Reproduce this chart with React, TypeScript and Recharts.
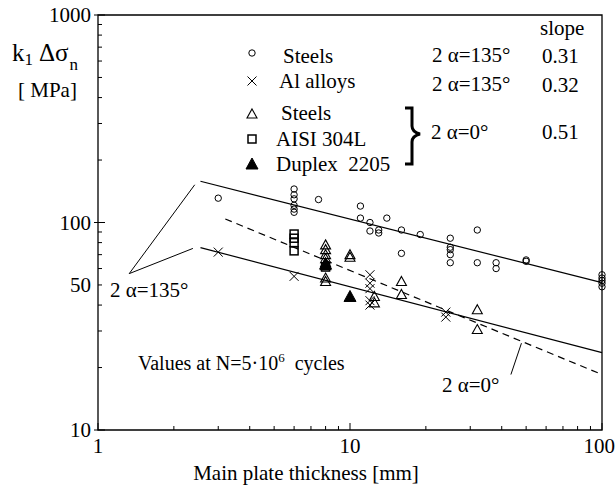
import { ScatterChart, Scatter, XAxis, YAxis, ReferenceArea } from 'recharts';

// tick positions / labels
const xTicks = [1, 2, 3, 4, 5, 6, 7, 8, 9, 10, 20, 30, 40, 50, 60, 70, 80, 90, 100];
const xLabels = [1, 10, 100];
const yTicks = [10, 20, 30, 40, 50, 60, 70, 80, 90, 100, 200, 300, 400, 500, 600, 700, 800, 900, 1000];
const yLabels = [10, 50, 100, 1000];
const yMajor = [10, 100, 1000];

// measured points, thickness [mm] vs k1*dsigma_n [MPa]
const steels135 = [
  { x: 3, y: 131 },
  { x: 6, y: 145 }, { x: 6, y: 136 }, { x: 6, y: 130 }, { x: 6, y: 121 }, { x: 6, y: 116 }, { x: 6, y: 112 },
  { x: 7.5, y: 129 },
  { x: 11, y: 120 }, { x: 11, y: 105 },
  { x: 12, y: 100 }, { x: 12, y: 91 },
  { x: 13, y: 92 }, { x: 13, y: 89 },
  { x: 14, y: 105 },
  { x: 16, y: 92 }, { x: 16, y: 71 },
  { x: 19, y: 87.5 },
  { x: 25, y: 84 }, { x: 25, y: 76 }, { x: 25, y: 74 }, { x: 25, y: 70 }, { x: 25, y: 64 },
  { x: 32, y: 92 }, { x: 32, y: 64 },
  { x: 38, y: 64 }, { x: 38, y: 60 },
  { x: 50, y: 66 }, { x: 50, y: 65 },
  { x: 100, y: 56 }, { x: 100, y: 54 }, { x: 100, y: 52.5 }, { x: 100, y: 51 }, { x: 100, y: 49 },
];
const alAlloys = [
  { x: 3, y: 72 },
  { x: 6, y: 55 },
  { x: 12, y: 56 }, { x: 12, y: 51 }, { x: 12, y: 48 }, { x: 12, y: 42 }, { x: 12, y: 40 },
  { x: 24, y: 37 }, { x: 24, y: 35 },
];
const steels0 = [
  { x: 8, y: 78 }, { x: 8, y: 74 }, { x: 8, y: 70 }, { x: 8, y: 67 }, { x: 8, y: 64 }, { x: 8, y: 62 },
  { x: 8, y: 54 }, { x: 8, y: 52 },
  { x: 10, y: 70 }, { x: 10, y: 68 },
  { x: 12.5, y: 44 }, { x: 12.5, y: 41 },
  { x: 16, y: 52 }, { x: 16, y: 45 },
  { x: 32, y: 38 }, { x: 32, y: 30.5 },
];
const aisi304 = [{ x: 6, y: 88 }, { x: 6, y: 84 }, { x: 6, y: 80 }, { x: 6, y: 73 }, { x: 8, y: 61 }];
const duplex = [{ x: 10, y: 44 }, { x: 8, y: 63 }];

// fitted curves
const fit135Steel = [{ x: 2.55, y: 158 }, { x: 100, y: 51.3 }];
const fit135Al = [{ x: 2.55, y: 75.7 }, { x: 100, y: 23.6 }];
const fit0 = [{ x: 3.2, y: 104 }, { x: 100, y: 18.5 }];

// leader lines for the annotations
const lead135a = [{ x: 1.33, y: 56.7 }, { x: 2.42, y: 152 }];
const lead135b = [{ x: 1.33, y: 56.7 }, { x: 2.38, y: 75 }];
const lead0 = [{ x: 43.5, y: 18.5 }, { x: 47.9, y: 26.2 }];

const FONT = 'Liberation Serif';
const txt = { fontFamily: FONT, fill: '#000', fontSize: 21 };
const pre = { whiteSpace: 'pre' as const };

const CircleMark = (p: any) => <circle cx={p.cx} cy={p.cy} r={3.2} fill="none" stroke="#000" strokeWidth={1} />;
const CrossMark = (p: any) => (
  <path d={`M${p.cx - 4.5},${p.cy - 4.5}L${p.cx + 4.5},${p.cy + 4.5}M${p.cx - 4.5},${p.cy + 4.5}L${p.cx + 4.5},${p.cy - 4.5}`} stroke="#000" strokeWidth={1} />
);
const TriMark = (p: any) => (
  <path d={`M${p.cx},${p.cy - 5}L${p.cx + 5},${p.cy + 4}L${p.cx - 5},${p.cy + 4}Z`} fill="none" stroke="#000" strokeWidth={1.1} />
);
const SquareMark = (p: any) => (
  <rect x={p.cx - 4} y={p.cy - 4} width={8} height={8} fill="none" stroke="#000" strokeWidth={1.5} />
);
const FilledTri = (p: any) => (
  <path d={`M${p.cx},${p.cy - 6}L${p.cx + 6},${p.cy + 5}L${p.cx - 6},${p.cy + 5}Z`} fill="#000" stroke="#000" />
);
const NoMark = () => <g />;

const XTick = (props: any) => {
  const { x, y, payload } = props;
  const major = xLabels.includes(payload.value);
  const last = payload.value === 100;
  return (
    <g>
      <line x1={x} x2={x} y1={y} y2={y - (major ? 7 : 4)} stroke="#000" strokeWidth={1} />
      {major && (
        <text x={last ? 615 : x} y={y + 23} textAnchor={last ? 'end' : 'middle'} {...txt}>
          {payload.value}
        </text>
      )}
    </g>
  );
};

const YTick = (props: any) => {
  const { x, y, payload } = props;
  const major = yMajor.includes(payload.value);
  return (
    <g>
      <line x1={major ? x - 4 : x} x2={x + (major ? 7 : 4)} y1={y} y2={y} stroke="#000" strokeWidth={1} />
      {yLabels.includes(payload.value) && (
        <text x={x - 7} y={y + 7} textAnchor="end" {...txt}>
          {payload.value}
        </text>
      )}
    </g>
  );
};

const lineStyle = { stroke: '#000', strokeWidth: 1.2 };

export default function App() {
  return (
    <div style={{ position: 'absolute', left: 0, top: 0, width: 616, height: 493, background: '#fff' }}>
      <ScatterChart width={616} height={493} margin={{ top: 15, right: 14, bottom: 33, left: 38 }}>
        <XAxis
          type="number"
          dataKey="x"
          scale="log"
          domain={[1, 100]}
          ticks={xTicks}
          interval={0}
          height={30}
          tickSize={0}
          tickMargin={0}
          axisLine={false}
          tick={<XTick />}
        />
        <YAxis
          type="number"
          dataKey="y"
          scale="log"
          domain={[10, 1000]}
          ticks={yTicks}
          interval={0}
          width={60}
          tickSize={0}
          tickMargin={0}
          axisLine={false}
          tick={<YTick />}
        />
        <ReferenceArea x1={1} x2={100} y1={10} y2={1000} fill="none" fillOpacity={0} stroke="#000" strokeWidth={1.3} />
        <Scatter data={fit135Steel} line={lineStyle} shape={NoMark} isAnimationActive={false} />
        <Scatter data={fit135Al} line={lineStyle} shape={NoMark} isAnimationActive={false} />
        <Scatter data={fit0} line={{ ...lineStyle, strokeDasharray: '7 5' }} shape={NoMark} isAnimationActive={false} />
        <Scatter data={lead135a} line={{ stroke: '#000', strokeWidth: 1 }} shape={NoMark} isAnimationActive={false} />
        <Scatter data={lead135b} line={{ stroke: '#000', strokeWidth: 1 }} shape={NoMark} isAnimationActive={false} />
        <Scatter data={lead0} line={{ stroke: '#000', strokeWidth: 1 }} shape={NoMark} isAnimationActive={false} />
        <Scatter data={steels135} shape={CircleMark} isAnimationActive={false} />
        <Scatter data={alAlloys} shape={CrossMark} isAnimationActive={false} />
        <Scatter data={steels0} shape={TriMark} isAnimationActive={false} />
        <Scatter data={aisi304} shape={SquareMark} isAnimationActive={false} />
        <Scatter data={duplex} shape={FilledTri} isAnimationActive={false} />
      </ScatterChart>

      <svg width={616} height={493} style={{ position: 'absolute', left: 0, top: 0, pointerEvents: 'none' }}>
        {/* y axis title */}
        <text x={12} y={61} {...txt} fontSize={25}>
          k<tspan fontSize={17} dy={4}>1</tspan>
          <tspan fontSize={25} dy={-4} dx={6}>Δσ</tspan>
          <tspan fontSize={17} dy={9} dx={1}>n</tspan>
        </text>
        <text x={18} y={97} {...txt} style={pre}>[ MPa]</text>

        {/* legend */}
        <text x={540} y={35} {...txt}>slope</text>
        <CircleMark cx={252} cy={53} />
        <text x={283} y={63} {...txt}>Steels</text>
        <text x={432} y={62} {...txt} style={pre}>2 α=135°</text>
        <text x={542} y={63} {...txt}>0.31</text>
        <CrossMark cx={252} cy={81} />
        <text x={279} y={88} {...txt}>Al alloys</text>
        <text x={432} y={91} {...txt} style={pre}>2 α=135°</text>
        <text x={542} y={92} {...txt}>0.32</text>
        <TriMark cx={252} cy={114} />
        <text x={281} y={120} {...txt}>Steels</text>
        <SquareMark cx={252} cy={139} />
        <text x={276} y={146} {...txt}>AISI 304L</text>
        <FilledTri cx={252} cy={164} />
        <text x={276} y={171} {...txt} style={pre}>Duplex  2205</text>
        <path
          d="M405,108 L412,108 L412,126 Q412,132 420,134 Q412,136 412,142 L412,164 L405,164"
          fill="none"
          stroke="#000"
          strokeWidth={3}
        />
        <text x={431} y={139} {...txt} style={pre}>2 α=0°</text>
        <text x={542} y={139} {...txt}>0.51</text>

        {/* annotations */}
        <text x={110} y={297} {...txt} style={pre}>2 α=135°</text>
        <text x={442} y={392} {...txt} style={pre}>2 α=0°</text>
        <text x={138} y={370} {...txt} fontSize={20} style={pre}>
          Values at N=5·10<tspan fontSize={13} dy={-8}>6</tspan>
          <tspan dy={8}>  cycles</tspan>
        </text>

        {/* x axis title */}
        <text x={306} y={480} {...txt} textAnchor="middle">Main plate thickness [mm]</text>
      </svg>
    </div>
  );
}
